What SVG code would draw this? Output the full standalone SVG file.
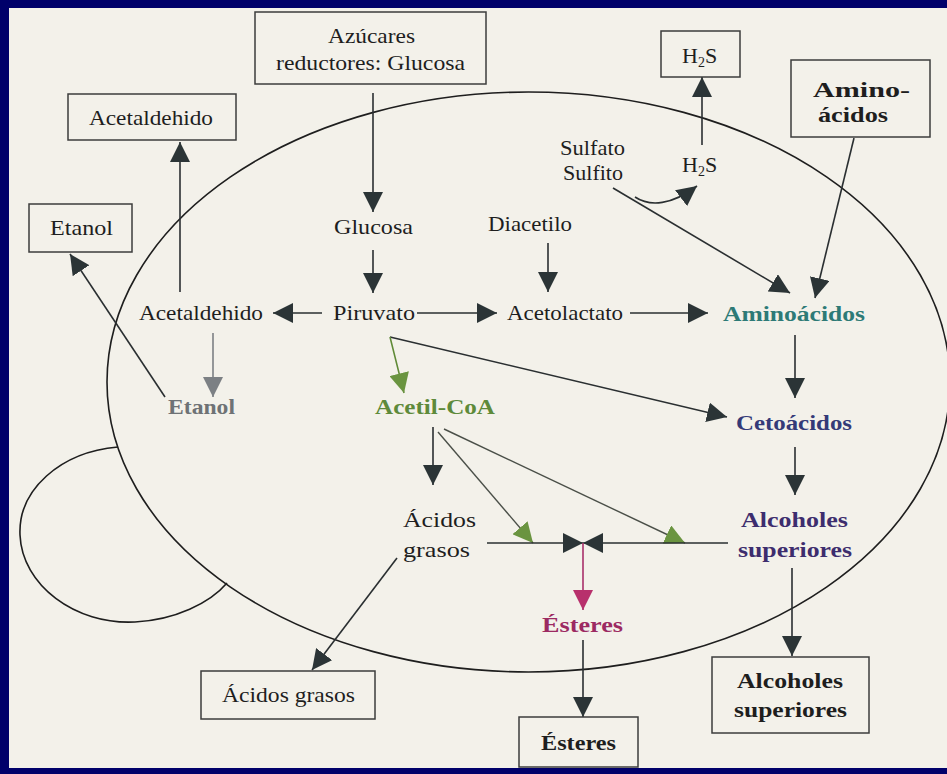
<svg xmlns="http://www.w3.org/2000/svg" width="947" height="774" viewBox="0 0 947 774">
<style>
text{font-family:"Liberation Serif","Times New Roman",serif;font-size:22px;fill:#1e1e1e;text-anchor:middle}
.b{font-weight:bold}
.box{fill:none;stroke:#3c3c3c;stroke-width:1.5}
.ln{fill:none;stroke:#2a2f31;stroke-width:1.6}
.gy{fill:none;stroke:#7c8084;stroke-width:1.6}
.gn{fill:none;stroke:#5f8a36;stroke-width:1.6}
.gd{fill:none;stroke:#4a4f48;stroke-width:1.4}
.mg{fill:none;stroke:#a8306a;stroke-width:1.6}
.sh{fill:none;stroke:#1e1e1e;stroke-width:1.6}
</style>
<defs>
<marker id="ad" viewBox="0 0 20 20" refX="20" refY="10" markerWidth="20" markerHeight="20" markerUnits="userSpaceOnUse" orient="auto"><path d="M0,0L20,10L0,20z" fill="#2b3436"/></marker>
<marker id="ag" viewBox="0 0 20 20" refX="20" refY="10" markerWidth="20" markerHeight="20" markerUnits="userSpaceOnUse" orient="auto"><path d="M0,0L20,10L0,20z" fill="#7c8084"/></marker>
<marker id="an" viewBox="0 0 20 20" refX="20" refY="10" markerWidth="20" markerHeight="20" markerUnits="userSpaceOnUse" orient="auto"><path d="M0,0L20,10L0,20z" fill="#6a9440"/></marker>
<marker id="am" viewBox="0 0 20 20" refX="20" refY="10" markerWidth="20" markerHeight="20" markerUnits="userSpaceOnUse" orient="auto"><path d="M0,0L20,10L0,20z" fill="#b8306c"/></marker>
</defs>
<rect x="0" y="0" width="947" height="774" fill="#00006a"/>
<rect x="9" y="8" width="938" height="760" fill="#f3f1ea"/>

<g id="cell">
<ellipse cx="528.5" cy="382" rx="421.5" ry="290" class="sh"/>
<path d="M118,447 C60,452 18,490 20,535 C22,585 75,625 135,622 C175,620 210,603 227,583" class="sh"/>
</g>

<g id="connectors">
<path d="M373,93V212" class="ln" marker-end="url(#ad)"/>
<path d="M373,250V293" class="ln" marker-end="url(#ad)"/>
<path d="M322,313H273" class="ln" marker-end="url(#ad)"/>
<path d="M180,292V142" class="ln" marker-end="url(#ad)"/>
<path d="M213,333V397" class="gy" marker-end="url(#ag)"/>
<path d="M165,397L70,254" class="ln" marker-end="url(#ad)"/>
<path d="M417,313H497" class="ln" marker-end="url(#ad)"/>
<path d="M548,243V292" class="ln" marker-end="url(#ad)"/>
<path d="M630,313H708" class="ln" marker-end="url(#ad)"/>
<path d="M613,188L790,293" class="ln" marker-end="url(#ad)"/>
<path d="M635,197C650,207 672,205 697,186" class="ln" marker-end="url(#ad)"/>
<path d="M702,145V77" class="ln" marker-end="url(#ad)"/>
<path d="M854,138L815,298" class="ln" marker-end="url(#ad)"/>
<path d="M795,335V398" class="ln" marker-end="url(#ad)"/>
<path d="M390,337L727,417" class="ln" marker-end="url(#ad)"/>
<path d="M390,337L404,393" class="gn" marker-end="url(#an)"/>
<path d="M795,447V495" class="ln" marker-end="url(#ad)"/>
<path d="M792,568V656" class="ln" marker-end="url(#ad)"/>
<path d="M433,427V485" class="ln" marker-end="url(#ad)"/>
<path d="M438,432L533,543" class="gd" marker-end="url(#an)"/>
<path d="M444,429L685,543" class="gd" marker-end="url(#an)"/>
<path d="M487,543H583" class="ln" marker-end="url(#ad)"/>
<path d="M728,543H583" class="ln" marker-end="url(#ad)"/>
<path d="M583,543V610" class="mg" marker-end="url(#am)"/>
<path d="M583,640V717" class="ln" marker-end="url(#ad)"/>
<path d="M397,558L312,670" class="ln" marker-end="url(#ad)"/>
</g>

<g id="azucares"><rect x="255" y="12" width="231" height="72" class="box"/><text x="371.5" y="43" textLength="87" lengthAdjust="spacingAndGlyphs">Azúcares</text><text x="370.5" y="70" textLength="189" lengthAdjust="spacingAndGlyphs">reductores: Glucosa</text></g>
<g id="acetaldehido-box"><rect x="68" y="94" width="168" height="46" class="box"/><text x="151" y="125" textLength="124" lengthAdjust="spacingAndGlyphs">Acetaldehido</text></g>
<g id="etanol-box"><rect x="29" y="204" width="103" height="48" class="box"/><text x="81.5" y="235" textLength="63" lengthAdjust="spacingAndGlyphs">Etanol</text></g>
<g id="h2s-box"><rect x="661" y="31" width="79" height="46" class="box"/><text x="682" y="63" style="text-anchor:start">H<tspan font-size="14" dy="4">2</tspan><tspan dy="-4">S</tspan></text></g>
<g id="amino-box"><rect x="791" y="60" width="139" height="77" class="box"/><text x="861.5" y="97" class="b" textLength="97" lengthAdjust="spacingAndGlyphs">Amino-</text><text x="853" y="122" class="b" textLength="70" lengthAdjust="spacingAndGlyphs">ácidos</text></g>
<g id="acidos-box"><rect x="201" y="671" width="174" height="48" class="box"/><text x="288.5" y="702" textLength="133" lengthAdjust="spacingAndGlyphs">Ácidos grasos</text></g>
<g id="esteres-box"><rect x="519" y="717" width="119" height="50" class="box"/><text x="578.5" y="750" class="b" textLength="75" lengthAdjust="spacingAndGlyphs">Ésteres</text></g>
<g id="alcoholes-box"><rect x="712" y="657" width="157" height="76" class="box"/><text x="790" y="688" class="b" textLength="106" lengthAdjust="spacingAndGlyphs">Alcoholes</text><text x="790.5" y="717" class="b" textLength="113" lengthAdjust="spacingAndGlyphs">superiores</text></g>

<g id="glucosa"><text x="373.5" y="234" textLength="79" lengthAdjust="spacingAndGlyphs">Glucosa</text></g>
<g id="diacetilo"><text x="530" y="231" textLength="84" lengthAdjust="spacingAndGlyphs">Diacetilo</text></g>
<g id="sulfato"><text x="592.5" y="155" textLength="65" lengthAdjust="spacingAndGlyphs">Sulfato</text><text x="593" y="180" textLength="60" lengthAdjust="spacingAndGlyphs">Sulfito</text></g>
<g id="h2s"><text x="682" y="172" style="text-anchor:start">H<tspan font-size="14" dy="4">2</tspan><tspan dy="-4">S</tspan></text></g>
<g id="acetaldehido"><text x="201" y="320" textLength="124" lengthAdjust="spacingAndGlyphs">Acetaldehido</text></g>
<g id="piruvato"><text x="374" y="320" textLength="82" lengthAdjust="spacingAndGlyphs">Piruvato</text></g>
<g id="acetolactato"><text x="565" y="320" textLength="116" lengthAdjust="spacingAndGlyphs">Acetolactato</text></g>
<g id="aminoacidos"><text x="794" y="321" class="b" textLength="142" lengthAdjust="spacingAndGlyphs" style="fill:#2d7a76">Aminoácidos</text></g>
<g id="etanol"><text x="201.5" y="414" class="b" textLength="67" lengthAdjust="spacingAndGlyphs" style="fill:#6e7275">Etanol</text></g>
<g id="acetilcoa"><text x="435" y="414" class="b" textLength="120" lengthAdjust="spacingAndGlyphs" style="fill:#5e8a3a">Acetil-CoA</text></g>
<g id="cetoacidos"><text x="794" y="430" class="b" textLength="116" lengthAdjust="spacingAndGlyphs" style="fill:#343a78">Cetoácidos</text></g>
<g id="acidos"><text x="403" y="527" textLength="73" lengthAdjust="spacingAndGlyphs" style="text-anchor:start">Ácidos</text><text x="403" y="557" textLength="67" lengthAdjust="spacingAndGlyphs" style="text-anchor:start">grasos</text></g>
<g id="alcoholes"><text x="794.5" y="527" class="b" textLength="107" lengthAdjust="spacingAndGlyphs" style="fill:#3d2d6e">Alcoholes</text><text x="795" y="557" class="b" textLength="114" lengthAdjust="spacingAndGlyphs" style="fill:#3d2d6e">superiores</text></g>
<g id="esteres"><text x="582.5" y="632" class="b" textLength="81" lengthAdjust="spacingAndGlyphs" style="fill:#9c2a62">Ésteres</text></g>
</svg>
